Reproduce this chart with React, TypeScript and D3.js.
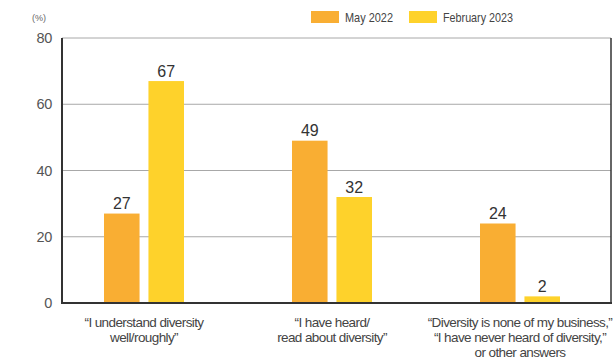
import React from "react";
import * as d3 from "d3";

const categories = ["c1", "c2", "c3"];
const categoryLabels = [
  ["“I understand diversity", "well/roughly”"],
  ["“I have heard/", "read about diversity”"],
  ["“Diversity is none of my business,”", "“I have never heard of diversity,”", "or other answers"],
];
const seriesNames = ["May 2022", "February 2023"];
const may2022 = [27, 49, 24];
const feb2023 = [67, 32, 2];
const yTicks = [0, 20, 40, 60, 80];
const colors = ["#F9AE33", "#FED22B"];

const W = 614;
const H = 360;
const plotLeft = 62;
const plotRight = 611;
const plotTop = 38;
const plotBottom = 303;

export default function App() {
  const y = d3.scaleLinear().domain([0, 80]).range([plotBottom, plotTop]);
  const x0 = d3.scaleBand<string>().domain(categories).range([50, 614]).padding(0);
  const x1 = d3.scaleBand<string>().domain(seriesNames).range([-40, 40]).paddingInner(0.2);
  const series = [may2022, feb2023];
  const font = "'Liberation Sans', Arial, sans-serif";

  return (
    <svg width={W} height={H} style={{ position: "absolute", left: 0, top: 0 }} fontFamily={font}>
      <rect width={W} height={H} fill="#fff" />
      {yTicks.filter((t) => t > 0).map((t) => (
        <line key={t} x1={plotLeft} x2={plotRight} y1={y(t)} y2={y(t)} stroke="#a8a8a8" strokeWidth={1} />
      ))}
      {categories.map((c, i) => {
        const cx = (x0(c) as number) + x0.bandwidth() / 2;
        return seriesNames.map((s, j) => {
          const v = series[j][i];
          const bx = cx + (x1(s) as number);
          return (
            <g key={c + s}>
              <rect x={bx} y={y(v)} width={x1.bandwidth()} height={plotBottom - y(v)} fill={colors[j]} />
              <text x={bx + x1.bandwidth() / 2} y={y(v) - 4.5} textAnchor="middle" fontSize={16} fill="#333">
                {v}
              </text>
            </g>
          );
        });
      })}
      <line x1={plotLeft} x2={plotLeft} y1={plotTop} y2={plotBottom + 1} stroke="#333" strokeWidth={2} />
      <line x1={plotRight} x2={plotRight} y1={plotTop} y2={plotBottom + 1} stroke="#333" strokeWidth={1.5} />
      <line x1={plotLeft - 1} x2={plotRight + 1} y1={plotBottom} y2={plotBottom} stroke="#333" strokeWidth={2} />
      {yTicks.map((t) => (
        <text key={t} x={52} y={y(t) + 5} textAnchor="end" fontSize={14.5} fill="#555" letterSpacing={-0.3}>
          {t}
        </text>
      ))}
      <text x={32} y={21} fontSize={9} fill="#666">(%)</text>
      {seriesNames.map((s, j) => {
        const lx = [311, 409][j];
        const tl = [48, 70][j];
        return (
          <g key={s}>
            <rect x={lx} y={11} width={28} height={12} fill={colors[j]} />
            <text x={lx + 34} y={22} fontSize={13.5} fill="#444" textLength={tl} lengthAdjust="spacingAndGlyphs">{s}</text>
          </g>
        );
      })}
      {categories.map((c, i) => {
        const cx = (x0(c) as number) + x0.bandwidth() / 2;
        return (
          <text key={c} textAnchor="middle" fontSize={13.5} fill="#444" letterSpacing={-0.6}>
            {categoryLabels[i].map((l, k) => (
              <tspan key={k} x={cx} y={327 + k * 15}>{l}</tspan>
            ))}
          </text>
        );
      })}
    </svg>
  );
}
